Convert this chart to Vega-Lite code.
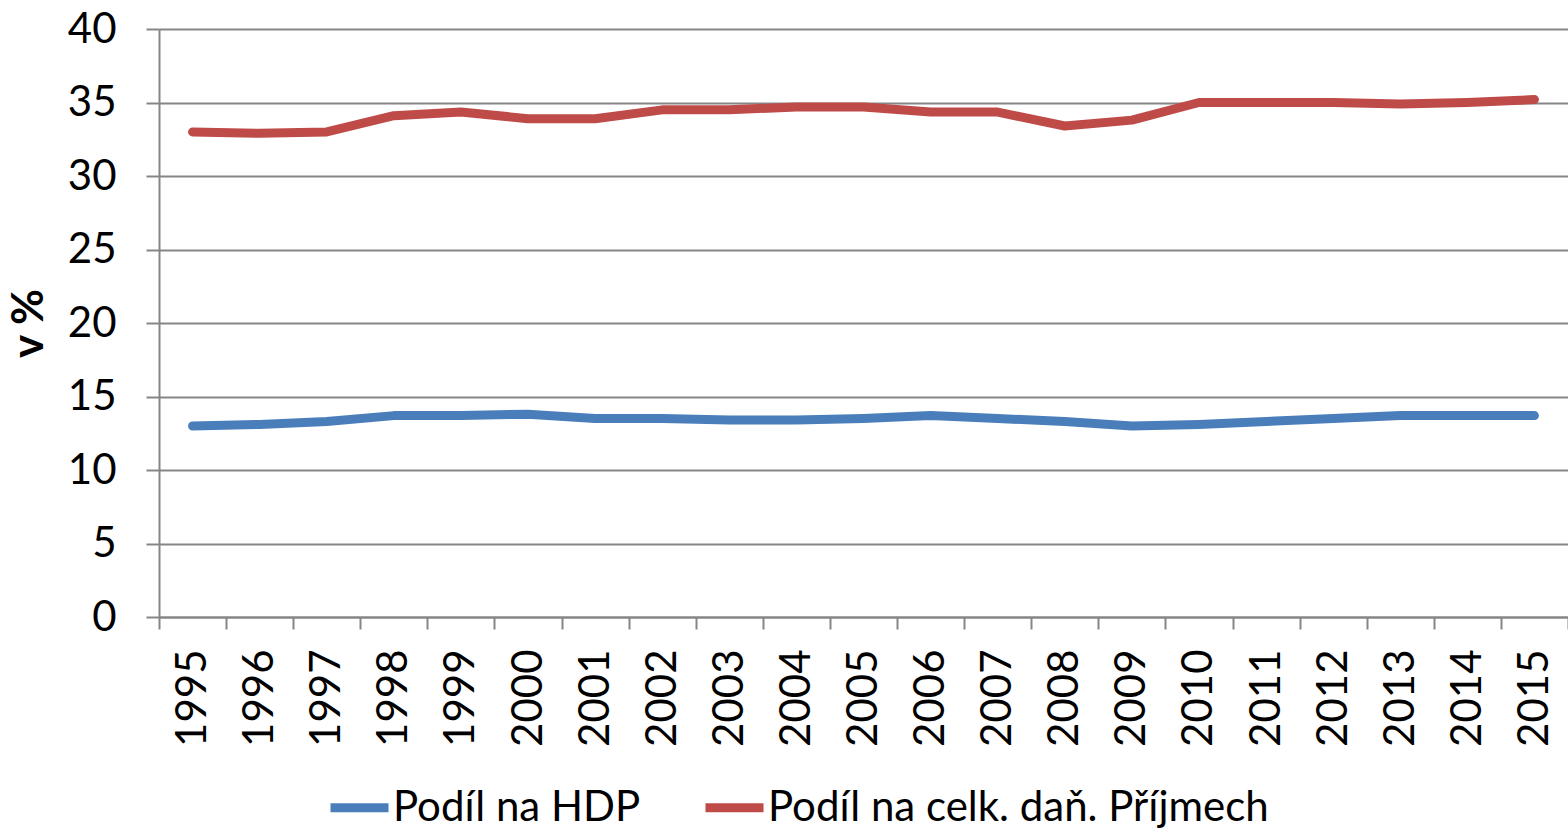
{
  "$schema": "https://vega.github.io/schema/vega-lite/v6.json",
  "autosize": "none",
  "width": 1409,
  "height": 588,
  "padding": {"left": 159, "top": 29, "right": 0, "bottom": 216},
  "background": "white",
  "config": {
    "font": "Lato",
    "view": {"stroke": null},
    "axis": {"labelFont": "Lato", "titleFont": "Lato", "labelColor": "black", "titleColor": "black"}
  },
  "data": {
    "values": [
      {"year": "1995", "series": "Podíl na HDP", "value": 13.0},
      {"year": "1996", "series": "Podíl na HDP", "value": 13.1},
      {"year": "1997", "series": "Podíl na HDP", "value": 13.3},
      {"year": "1998", "series": "Podíl na HDP", "value": 13.7},
      {"year": "1999", "series": "Podíl na HDP", "value": 13.7},
      {"year": "2000", "series": "Podíl na HDP", "value": 13.8},
      {"year": "2001", "series": "Podíl na HDP", "value": 13.5},
      {"year": "2002", "series": "Podíl na HDP", "value": 13.5},
      {"year": "2003", "series": "Podíl na HDP", "value": 13.4},
      {"year": "2004", "series": "Podíl na HDP", "value": 13.4},
      {"year": "2005", "series": "Podíl na HDP", "value": 13.5},
      {"year": "2006", "series": "Podíl na HDP", "value": 13.7},
      {"year": "2007", "series": "Podíl na HDP", "value": 13.5},
      {"year": "2008", "series": "Podíl na HDP", "value": 13.3},
      {"year": "2009", "series": "Podíl na HDP", "value": 13.0},
      {"year": "2010", "series": "Podíl na HDP", "value": 13.1},
      {"year": "2011", "series": "Podíl na HDP", "value": 13.3},
      {"year": "2012", "series": "Podíl na HDP", "value": 13.5},
      {"year": "2013", "series": "Podíl na HDP", "value": 13.7},
      {"year": "2014", "series": "Podíl na HDP", "value": 13.7},
      {"year": "2015", "series": "Podíl na HDP", "value": 13.7},
      {"year": "1995", "series": "Podíl na celk. daň. Příjmech", "value": 33.0},
      {"year": "1996", "series": "Podíl na celk. daň. Příjmech", "value": 32.9},
      {"year": "1997", "series": "Podíl na celk. daň. Příjmech", "value": 33.0},
      {"year": "1998", "series": "Podíl na celk. daň. Příjmech", "value": 34.1},
      {"year": "1999", "series": "Podíl na celk. daň. Příjmech", "value": 34.35},
      {"year": "2000", "series": "Podíl na celk. daň. Příjmech", "value": 33.9},
      {"year": "2001", "series": "Podíl na celk. daň. Příjmech", "value": 33.9},
      {"year": "2002", "series": "Podíl na celk. daň. Příjmech", "value": 34.5},
      {"year": "2003", "series": "Podíl na celk. daň. Příjmech", "value": 34.5},
      {"year": "2004", "series": "Podíl na celk. daň. Příjmech", "value": 34.7},
      {"year": "2005", "series": "Podíl na celk. daň. Příjmech", "value": 34.7},
      {"year": "2006", "series": "Podíl na celk. daň. Příjmech", "value": 34.35},
      {"year": "2007", "series": "Podíl na celk. daň. Příjmech", "value": 34.35},
      {"year": "2008", "series": "Podíl na celk. daň. Příjmech", "value": 33.4},
      {"year": "2009", "series": "Podíl na celk. daň. Příjmech", "value": 33.8},
      {"year": "2010", "series": "Podíl na celk. daň. Příjmech", "value": 35.0},
      {"year": "2011", "series": "Podíl na celk. daň. Příjmech", "value": 35.0},
      {"year": "2012", "series": "Podíl na celk. daň. Příjmech", "value": 35.0},
      {"year": "2013", "series": "Podíl na celk. daň. Příjmech", "value": 34.9},
      {"year": "2014", "series": "Podíl na celk. daň. Příjmech", "value": 35.0},
      {"year": "2015", "series": "Podíl na celk. daň. Příjmech", "value": 35.2}
    ]
  },
  "mark": {"type": "line", "strokeWidth": 9, "strokeCap": "round", "strokeJoin": "round"},
  "encoding": {
    "x": {
      "field": "year",
      "type": "ordinal",
      "scale": {"paddingInner": 0, "paddingOuter": 0},
      "axis": {
        "title": null,
        "labelAngle": -90,
        "labelAlign": "right",
        "labelBaseline": "middle",
        "labelFontSize": 42,
        "labelPadding": 20,
        "tickSize": 12,
        "tickColor": "#868686",
        "tickWidth": 2,
        "tickBand": "extent",
        "domainColor": "#868686",
        "domainWidth": 2,
        "grid": false
      }
    },
    "y": {
      "field": "value",
      "type": "quantitative",
      "scale": {"domain": [0, 40], "nice": false, "zero": true},
      "axis": {
        "title": "v %",
        "titleFontSize": 44,
        "titleFontWeight": "bold",
        "titlePadding": 16,
        "values": [0, 5, 10, 15, 20, 25, 30, 35, 40],
        "labelFontSize": 42,
        "labelPadding": 30,
        "tickSize": 13,
        "tickColor": "#868686",
        "tickWidth": 2,
        "domainColor": "#868686",
        "domainWidth": 2,
        "grid": true,
        "gridColor": "#868686",
        "gridWidth": 2
      }
    },
    "color": {
      "field": "series",
      "type": "nominal",
      "sort": ["Podíl na HDP", "Podíl na celk. daň. Příjmech"],
      "scale": {"domain": ["Podíl na HDP", "Podíl na celk. daň. Příjmech"], "range": ["#4A7EBB", "#BE4B48"]},
      "legend": {
        "title": null,
        "orient": "none",
        "legendX": 167,
        "legendY": 745,
        "direction": "horizontal",
        "symbolType": "stroke",
        "symbolSize": 3364,
        "symbolStrokeWidth": 9,
        "labelFontSize": 42,
        "labelFont": "Lato",
        "labelColor": "black",
        "labelOffset": 0,
        "columnPadding": 46,
        "labelLimit": 800
      }
    }
  }
}
